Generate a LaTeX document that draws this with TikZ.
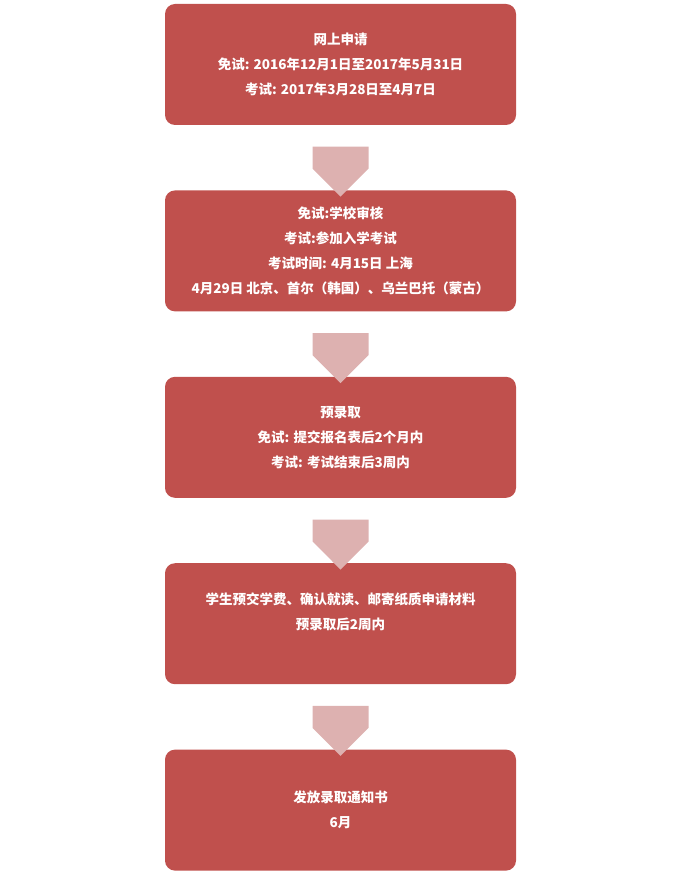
\documentclass[tikz,border=0pt]{standalone}
\usepackage{fontspec}
\setmainfont{Noto Sans CJK SC}
\usetikzlibrary{positioning,shapes.arrows,calc}
\definecolor{boxred}{HTML}{C0504D}
\definecolor{arrowpink}{HTML}{DDB1B0}

\begin{document}
\begin{tikzpicture}[x=1pt,y=1pt,
    stage/.style={draw=none, fill=boxred, rounded corners=10pt, text=white,
      minimum width=351pt, minimum height=121pt, align=center,
      font=\fontsize{13.5}{25}\selectfont\bfseries},
    downarrow/.style={single arrow, fill=arrowpink, draw=none, rotate=-90,
      minimum height=50pt, minimum width=56pt, single arrow head extend=0pt,
      inner sep=7pt}]
    % page frame
    \useasboundingbox (0,0) rectangle (680,-877);

    % stages
    \node[stage] (apply) at (340.5,-64.5)
      {网上申请\\免试: 2016年12月1日至2017年5月31日\\考试: 2017年3月28日至4月7日};
    \node[stage, below=65pt of apply] (exam)
      {免试:学校审核\\考试:参加入学考试\\考试时间: 4月15日 上海\\4月29日\ 北京、首尔（韩国）、乌兰巴托（蒙古）};
    \node[stage, below=65pt of exam] (prelim)
      {预录取\\免试: 提交报名表后2个月内\\考试: 考试结束后3周内};
    \node[stage, below=65pt of prelim] (confirm)
      {学生预交学费、确认就读、邮寄纸质申请材料\\预录取后2周内\\~};
    \node[stage, below=65pt of confirm] (notice)
      {发放录取通知书\\6月};

    % arrows
    \node[downarrow] (a1) at ($(apply.south)!0.5!(exam.north)$) {};
    \node[downarrow] (a2) at ($(exam.south)!0.5!(prelim.north)$) {};
    \node[downarrow] (a3) at ($(prelim.south)!0.5!(confirm.north)$) {};
    \node[downarrow] (a4) at ($(confirm.south)!0.5!(notice.north)$) {};
\end{tikzpicture}
\end{document}
